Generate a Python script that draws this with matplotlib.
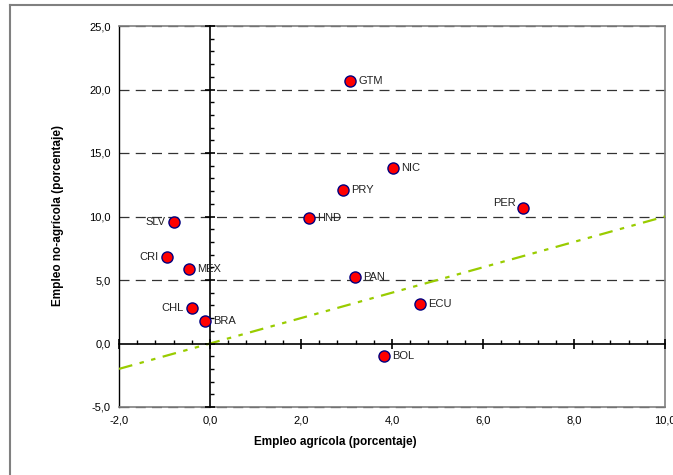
import matplotlib
matplotlib.use("Agg")
import matplotlib.pyplot as plt
from matplotlib.lines import Line2D
from matplotlib.ticker import FuncFormatter, MultipleLocator

plt.rcParams["font.family"] = ["Liberation Sans", "DejaVu Sans"]

COUNTRIES = ["GTM", "NIC", "PRY", "PER", "HND", "SLV", "CRI", "MEX", "CHL", "BRA", "PAN", "ECU", "BOL"]
AGRI = [3.08, 4.02, 2.92, 6.88, 2.18, -0.79, -0.95, -0.46, -0.40, -0.11, 3.19, 4.62, 3.82]
NON_AGRI = [20.7, 13.8, 12.1, 10.7, 9.9, 9.6, 6.8, 5.9, 2.8, 1.8, 5.2, 3.1, -1.0]
# label placement: offset in points, horizontal alignment
LABEL_POS = {
    "PER": ((-5, 3), "right"),
    "SLV": ((-6, 0), "right"),
    "CRI": ((-6, 0), "right"),
    "CHL": ((-6, 0), "right"),
}
REF_X = [-2, 10]
REF_Y = [-2, 10]

comma = FuncFormatter(lambda v, p: f"{v:.1f}".replace(".", ","))

fig = plt.figure(figsize=(6.73, 4.75), dpi=100)
pos = [119 / 673, 1 - 407 / 475, (665 - 119) / 673, (407 - 26) / 475]
ax = fig.add_axes(pos)
ax.set_xlim(-2, 10)
ax.set_ylim(-5, 25)
ax.xaxis.set_major_locator(MultipleLocator(2))
ax.yaxis.set_major_locator(MultipleLocator(5))
ax.xaxis.set_major_formatter(comma)
ax.yaxis.set_major_formatter(comma)
ax.tick_params(length=0, labelsize=8, pad=6)
for v in [-5, 5, 10, 15, 20, 25]:
    ax.axhline(v, color="#333333", lw=0.9, ls=(0, (8, 5)), zorder=1.5, clip_on=False)
for s in ["top", "right", "bottom"]:
    ax.spines[s].set_color("#808080")
    ax.spines[s].set_linewidth(1.2)
ax.spines["left"].set_color("black")
ax.spines["left"].set_linewidth(1.0)

# axes crossing at zero
ax2 = fig.add_axes(pos, frameon=True)
ax2.patch.set_visible(False)
ax2.set_xlim(-2, 10)
ax2.set_ylim(-5, 25)
for s in ["top", "right"]:
    ax2.spines[s].set_visible(False)
ax2.spines["left"].set_position(("data", 0))
ax2.spines["bottom"].set_position(("data", 0))
ax2.spines["left"].set_linewidth(1.2)
ax2.spines["bottom"].set_linewidth(1.2)
ax2.xaxis.set_major_locator(MultipleLocator(2))
ax2.xaxis.set_minor_locator(MultipleLocator(0.4))
ax2.yaxis.set_major_locator(MultipleLocator(5))
ax2.yaxis.set_minor_locator(MultipleLocator(1))
ax2.tick_params(which="major", direction="inout", length=7, width=1.2, labelbottom=False, labelleft=False)
ax2.tick_params(which="minor", direction="in", length=3, width=1.0)

ax2.plot(REF_X, REF_Y, color="#99CC00", lw=1.6, ls=(0, (6.2, 3.4, 2, 3.4, 2, 3.4)), zorder=2)
ax2.scatter(AGRI, NON_AGRI, s=64, color="red", edgecolor="#000080", linewidth=1.0, zorder=3)
for name, x, y in zip(COUNTRIES, AGRI, NON_AGRI):
    off, ha = LABEL_POS.get(name, ((6, 0), "left"))
    ax2.annotate(name, (x, y), xytext=off, textcoords="offset points", ha=ha, va="center",
                 fontsize=8, color="#222222", zorder=4)

fig.text(335 / 673, 1 - 442 / 475, "Empleo agrícola (porcentaje)", ha="center", va="center",
         fontsize=8.5, fontweight="bold")
fig.text(58 / 673, 1 - 216 / 475, "Empleo no-agrícola (porcentaje)", ha="center", va="center",
         rotation=90, fontsize=8.5, fontweight="bold")

# outer chart frame (cut off at right and bottom)
fig.add_artist(Line2D([10 / 673, 10 / 673], [0, 1 - 5 / 475], transform=fig.transFigure, color="#808080", lw=1.5))
fig.add_artist(Line2D([10 / 673, 1], [1 - 5 / 475, 1 - 5 / 475], transform=fig.transFigure, color="#808080", lw=1.5))

fig.savefig("out.png", dpi=100)
